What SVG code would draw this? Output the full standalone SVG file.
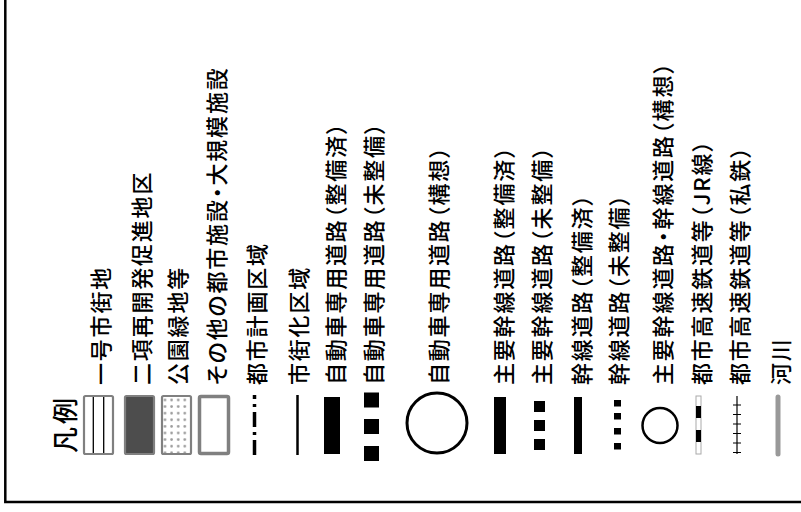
<svg xmlns="http://www.w3.org/2000/svg" width="801" height="512" viewBox="0 0 801 512">
<style>
.t{font-family:"Noto Sans CJK JP","Noto Sans",sans-serif;font-size:22px;font-weight:500;letter-spacing:1.8px;font-feature-settings:"palt";fill:#000;dominant-baseline:central}
.h{font-size:26px;letter-spacing:3px}
.box{stroke:#808080;stroke-width:2.2}
</style>
<defs>
<pattern id="dots" patternUnits="userSpaceOnUse" x="161.7" y="396.7" width="6.6" height="6.6">
<circle cx="3.3" cy="3.3" r="1.3" fill="#9a9a9a"/>
</pattern>
</defs>
<rect width="801" height="512" fill="#fff"/>
<g id="frame" fill="none" stroke="#000" stroke-width="2.5">
<path d="M5.3 0 V502 H801"/>
</g>
<g id="title"><text class="t h" transform="translate(63,453) rotate(-90)">凡例</text></g>
<g id="item1">
<rect class="box" x="84" y="396" width="29" height="58" rx="1.5" fill="#fff"/>
<path d="M93.3 397V453M103.7 397V453" stroke="#000" stroke-width="1.3"/>
<text class="t" transform="translate(99,385) rotate(-90)">一号市街地</text>
</g>
<g id="item2">
<rect class="box" x="125" y="396" width="29" height="58" rx="1.5" fill="#4d4d4d"/>
<text class="t" transform="translate(140,385) rotate(-90)">二項再開発促進地区</text>
</g>
<g id="item3">
<rect class="box" x="162" y="396" width="29" height="58" rx="1.5" fill="url(#dots)"/>
<text class="t" transform="translate(176,385) rotate(-90)">公園緑地等</text>
</g>
<g id="item4">
<rect x="199.5" y="396.5" width="29" height="57" rx="1.5" fill="#fff" stroke="#808080" stroke-width="3.5"/>
<text class="t" transform="translate(215,385) rotate(-90)">その他の都市施設・大規模施設</text>
</g>
<g id="item5">
<line x1="254.5" y1="455" x2="254.5" y2="395" stroke="#000" stroke-width="3.5" stroke-dasharray="15 5 3 5"/>
<text class="t" transform="translate(255,385) rotate(-90)">都市計画区域</text>
</g>
<g id="item6">
<line x1="297.5" y1="395" x2="297.5" y2="455" stroke="#000" stroke-width="2.5"/>
<text class="t" transform="translate(297,385) rotate(-90)">市街化区域</text>
</g>
<g id="item7">
<rect x="324" y="397" width="16" height="57" fill="#000"/>
<text class="t" transform="translate(334,385) rotate(-90)">自動車専用道路（整備済）</text>
</g>
<g id="item8">
<rect x="364" y="392.5" width="15" height="15" fill="#000"/>
<rect x="364" y="419" width="15" height="15" fill="#000"/>
<rect x="364" y="446" width="15" height="15" fill="#000"/>
<text class="t" transform="translate(372,385) rotate(-90)">自動車専用道路（未整備）</text>
</g>
<g id="item9">
<circle cx="437" cy="423" r="30" fill="none" stroke="#000" stroke-width="3"/>
<text class="t" transform="translate(437,385) rotate(-90)">自動車専用道路（構想）</text>
</g>
<g id="item10">
<rect x="494" y="397" width="12" height="57" fill="#000"/>
<text class="t" transform="translate(502,385) rotate(-90)">主要幹線道路（整備済）</text>
</g>
<g id="item11">
<rect x="534" y="401" width="11" height="11" fill="#000"/>
<rect x="534" y="420" width="11" height="11" fill="#000"/>
<rect x="534" y="439" width="11" height="11" fill="#000"/>
<text class="t" transform="translate(540,385) rotate(-90)">主要幹線道路（未整備）</text>
</g>
<g id="item12">
<rect x="574" y="397" width="8" height="57" fill="#000"/>
<text class="t" transform="translate(580,385) rotate(-90)">幹線道路（整備済）</text>
</g>
<g id="item13">
<rect x="614" y="400" width="7" height="6.5" fill="#000"/>
<rect x="614" y="413" width="7" height="6.5" fill="#000"/>
<rect x="614" y="428" width="7" height="6.5" fill="#000"/>
<rect x="614" y="443" width="7" height="6.5" fill="#000"/>
<text class="t" transform="translate(617,385) rotate(-90)">幹線道路（未整備）</text>
</g>
<g id="item14">
<circle cx="660" cy="425.5" r="17.5" fill="none" stroke="#000" stroke-width="2.5"/>
<text class="t" transform="translate(661,385) rotate(-90)">主要幹線道路・幹線道路（構想）</text>
</g>
<g id="item15">
<rect x="696" y="396" width="5" height="58" fill="#fff" stroke="#aaa" stroke-width="1"/>
<rect x="696" y="406" width="5" height="12" fill="#000"/>
<rect x="696" y="430" width="5" height="12" fill="#000"/>
<text class="t" transform="translate(700,385) rotate(-90)">都市高速鉄道等（JR線）</text>
</g>
<g id="item16" stroke="#000" stroke-width="1.2">
<line x1="737" y1="396" x2="737" y2="454"/>
<path d="M733 405H741M733 414.5H741M733 424H741M733 433.5H741M733 443H741M733 452.5H741"/>
<text class="t" stroke="none" transform="translate(738,385) rotate(-90)">都市高速鉄道等（私鉄）</text>
</g>
<g id="item17">
<line x1="778" y1="397" x2="778" y2="454" stroke="#999" stroke-width="5" stroke-linecap="round"/>
<text class="t" transform="translate(779,385) rotate(-90)">河川</text>
</g>
</svg>
